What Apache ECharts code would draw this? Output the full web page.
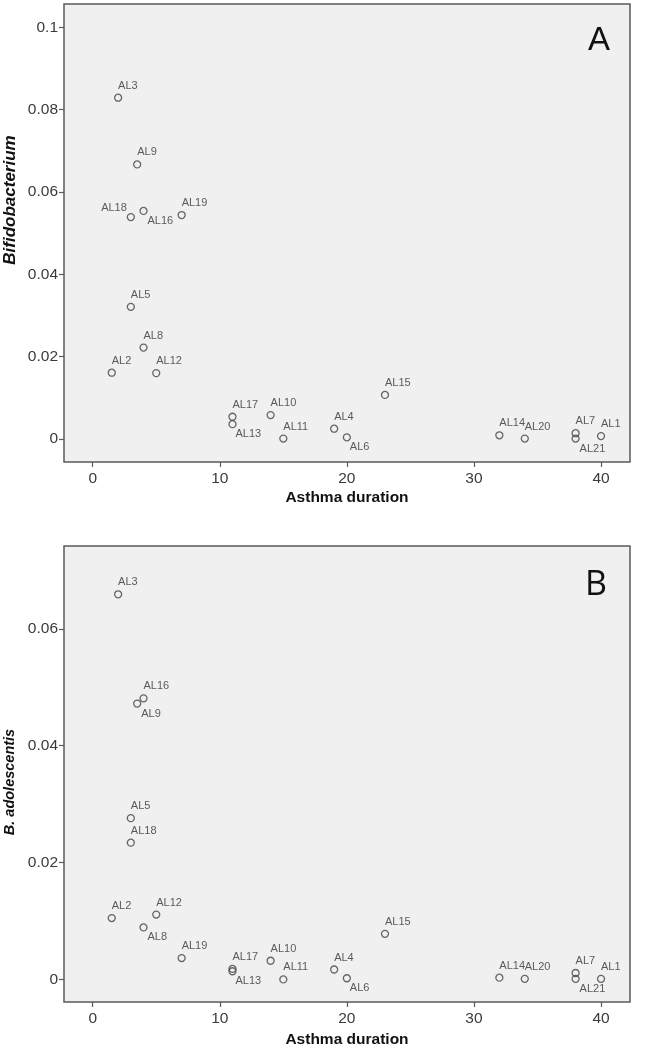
<!DOCTYPE html>
<html>
<head>
<meta charset="utf-8">
<script src="https://cdn.jsdelivr.net/npm/echarts@6/dist/echarts.min.js"></script>
<style>
  html, body { margin: 0; padding: 0; background: #fff; }
  #chart { width: 653px; height: 1049px; }
</style>
</head>
<body>
<div id="chart"></div>
<script>
// ---- data ----
const names = ['AL1','AL2','AL3','AL4','AL5','AL6','AL7','AL8','AL9','AL10','AL11','AL12','AL13','AL14','AL15','AL16','AL17','AL18','AL19','AL20','AL21'];
const duration = [40, 1.5, 2, 19, 3, 20, 38, 4, 3.5, 14, 15, 5, 11, 32, 23, 4, 11, 3, 7, 34, 38];
const bifidobacterium = [0.0007, 0.0161, 0.0829, 0.0025, 0.0321, 0.0004, 0.0014, 0.0222, 0.0667, 0.0058, 0.0001, 0.0160, 0.0036, 0.0009, 0.0107, 0.0554, 0.0054, 0.0539, 0.0544, 0.0001, 0.0001];
const adolescentis = [0.0001, 0.0105, 0.0659, 0.0017, 0.0276, 0.0002, 0.0011, 0.0089, 0.0472, 0.0032, 0.0000, 0.0111, 0.0014, 0.0003, 0.0078, 0.0481, 0.0018, 0.0234, 0.00365, 0.0001, 0.0001];
const xTicks = [0, 10, 20, 30, 40];
const yTicksA = [0, 0.02, 0.04, 0.06, 0.08, 0.1];
const yTicksB = [0, 0.02, 0.04, 0.06];

// ---- label placement (layout only) ----
const belowA = { AL16: 4, AL13: 3, AL6: 3, AL21: 4 };
const leftA = { AL18: true };
const belowB = { AL9: 4, AL8: 4, AL13: 3, AL6: 3, AL21: 4 };
const leftB = {};

function buildData(values, below, left) {
  return names.map((n, i) => {
    let label;
    if (left[n]) {
      label = { align: 'right', offset: [-4, -9] };
    } else if (below[n] !== undefined) {
      label = { align: 'left', offset: [below[n], 10] };
    } else {
      label = { align: 'left', offset: [0, -12] };
    }
    return { name: n, value: [duration[i], values[i]], label };
  });
}

const axisColor = '#5a5a5a';
const tickFont = { color: '#3a3a3a', fontSize: 15.5, fontFamily: 'Liberation Sans, Arial, sans-serif' };

function xAxisFor(gridIndex, gap) {
  return {
    gridIndex, type: 'value', min: -2.258, max: 42.28,
    name: 'Asthma duration', nameLocation: 'middle', nameGap: gap,
    nameTextStyle: { fontWeight: 'bold', fontSize: 15.5, color: '#111', fontFamily: 'Liberation Sans, Arial, sans-serif' },
    axisLine: { show: false, onZero: false },
    splitLine: { show: false },
    axisTick: { show: true, length: 5, inside: false, customValues: xTicks, lineStyle: { color: axisColor, width: 1.2 } },
    axisLabel: Object.assign({ margin: 9, customValues: xTicks, showMinLabel: true, showMaxLabel: true }, tickFont)
  };
}
function yAxisFor(gridIndex, min, max, ticks) {
  return {
    gridIndex, type: 'value', min, max,
    axisLine: { show: false, onZero: false },
    splitLine: { show: false },
    axisTick: { show: true, length: 5, inside: false, customValues: ticks, lineStyle: { color: axisColor, width: 1.2 } },
    axisLabel: Object.assign({ margin: 6, customValues: ticks, formatter: v => String(+v.toFixed(4)) }, tickFont)
  };
}

function seriesFor(idx, values, below, left) {
  return {
    type: 'scatter', xAxisIndex: idx, yAxisIndex: idx,
    symbol: 'circle', symbolSize: 7,
    itemStyle: { color: 'rgba(0,0,0,0)', borderColor: '#444', borderWidth: 1.3 },
    label: {
      show: true, position: 'inside', formatter: '{b}', verticalAlign: 'middle',
      fontSize: 11, color: '#333', fontFamily: 'Liberation Sans, Arial, sans-serif'
    },
    emphasis: { disabled: true },
    data: buildData(values, below, left)
  };
}

const chart = echarts.init(document.getElementById('chart'), null, { renderer: 'canvas' });
chart.setOption({
  animation: false,
  backgroundColor: '#ffffff',
  grid: [
    { left: 64, top: 4, width: 566, height: 458, show: true, backgroundColor: '#f0f0f0', borderColor: axisColor, borderWidth: 1.5 },
    { left: 64, top: 546, width: 566, height: 457, show: true, backgroundColor: '#f0f0f0', borderColor: axisColor, borderWidth: 1.5 }
  ],
  xAxis: [xAxisFor(0, 28), xAxisFor(1, 30)],
  yAxis: [yAxisFor(0, -0.00559, 0.10566, yTicksA), yAxisFor(1, -0.00386, 0.07416, yTicksB)],
  series: [seriesFor(0, bifidobacterium, belowA, leftA), seriesFor(1, adolescentis, belowB, leftB)],
  graphic: [
    { type: 'text', x: 10, y: 200, rotation: Math.PI / 2,
      style: { text: 'Bifidobacterium', fontSize: 17, fontWeight: 'bold', fontStyle: 'italic', fill: '#111', align: 'center', verticalAlign: 'middle', fontFamily: 'Liberation Sans, Arial, sans-serif' } },
    { type: 'text', x: 10, y: 782, rotation: Math.PI / 2,
      style: { text: 'B. adolescentis', fontSize: 14.5, fontWeight: 'bold', fontStyle: 'italic', fill: '#111', align: 'center', verticalAlign: 'middle', fontFamily: 'Liberation Sans, Arial, sans-serif' } },
    { type: 'text', x: 599, y: 41,
      style: { text: 'A', fontSize: 33, fill: '#111', align: 'center', verticalAlign: 'middle', fontFamily: 'Liberation Sans, Arial, sans-serif' } },
    { type: 'text', x: 596, y: 585,
      style: { text: 'B', fontSize: 34, fill: '#111', align: 'center', verticalAlign: 'middle', fontFamily: 'Open Sans, Liberation Sans, sans-serif' } }
  ]
});
</script>
</body>
</html>
